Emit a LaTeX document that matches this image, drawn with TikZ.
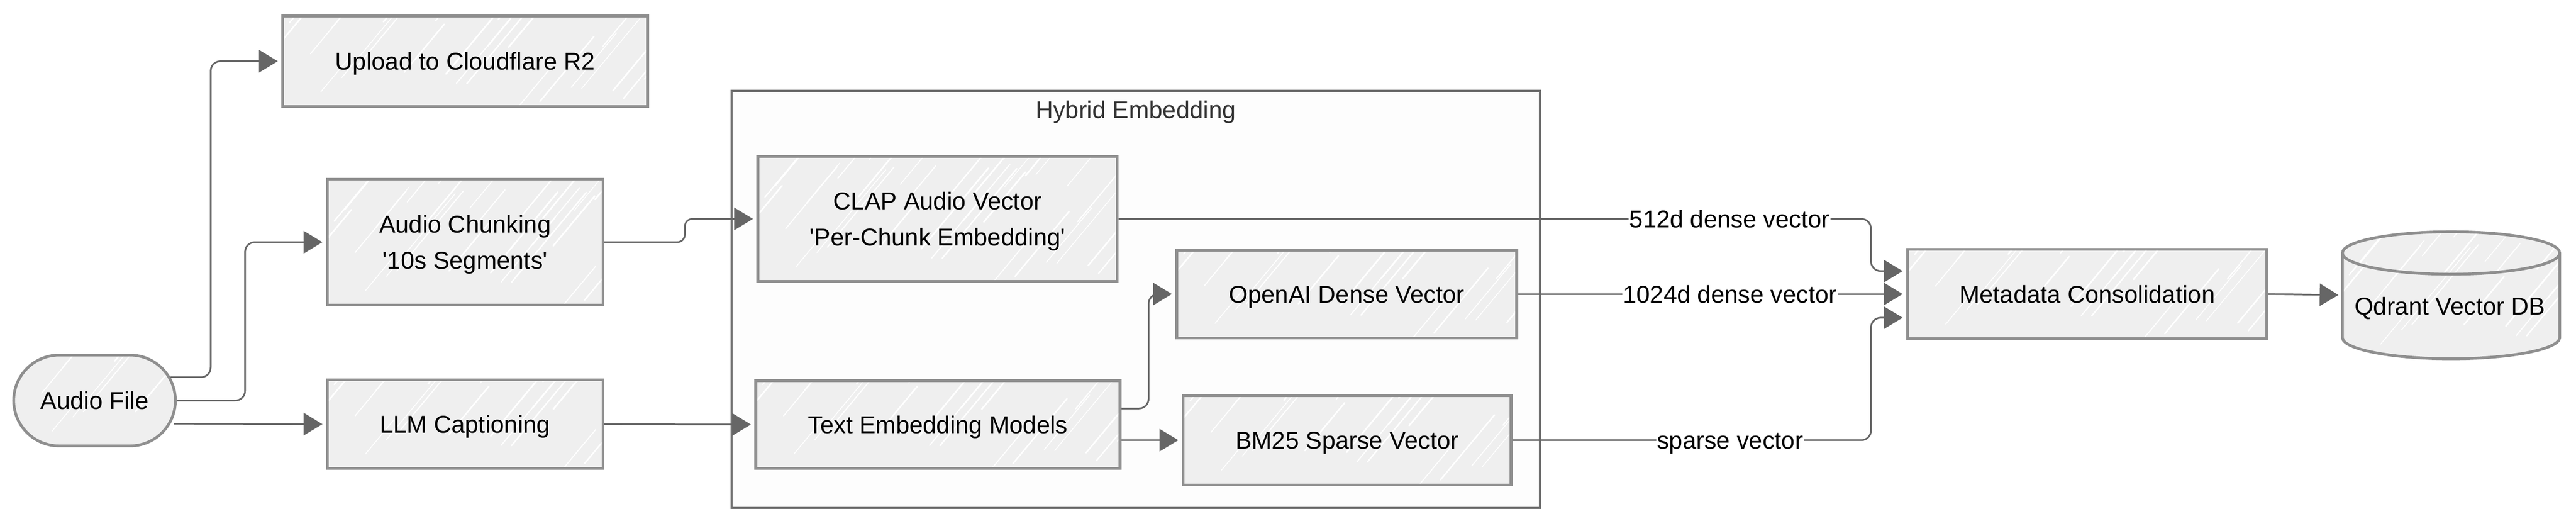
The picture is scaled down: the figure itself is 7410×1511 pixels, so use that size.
\documentclass[tikz,border=0pt]{standalone}
\usepackage{fontspec}
\newfontfamily\plainsans{Liberation Sans}
\usetikzlibrary{arrows.meta,shapes.misc,calc}
\definecolor{boxline}{HTML}{8F8F8F}
\definecolor{boxfill}{HTML}{EFEFEF}
\definecolor{conncol}{HTML}{666666}
\definecolor{framecol}{HTML}{6F6F6F}
\definecolor{framefill}{HTML}{FDFDFD}
\newcommand{\skhatch}{%
  \pgfmathsetseed{7}%
  \foreach \k in {-40,-10,...,1200}{%
    \pgfmathsetmacro{\ya}{rnd*380}%
    \pgfmathsetmacro{\ln}{60+rnd*170}%
    \pgfmathsetmacro{\wd}{0.5+rnd*0.7}%
    \draw[white,line width=\wd pt,line cap=round]
      ($(path picture bounding box.south west)+(\k*0.25pt,\ya*0.25pt)$) -- ++(\ln*0.25pt,\ln*1.2*0.25pt);
  }%
}
\tikzset{
  txt/.style={font=\plainsans\fontsize{17.5}{26}\selectfont,align=center,text=black,inner sep=0pt,text height=12.6pt,text depth=0pt},
  twoline/.style={text height=38.6pt},
  bx/.style 2 args={minimum width=#1*0.25pt,minimum height=#2*0.25pt},
  sketchline/.style={draw=boxline,line width=2pt},
  sketchbox/.style={txt,sketchline,fill=boxfill,path picture={\skhatch}},
  rectbox/.style={sketchbox,rectangle},
  framebox/.style={draw=framecol,line width=1.7pt,fill=framefill,rectangle,inner sep=0pt},
  conn/.style={draw=conncol,line width=1.2pt,rounded corners=7pt,-{Triangle[length=13.5pt,width=16pt,fill=conncol]},shorten >=2.5pt},
  lab/.style={txt,fill=white,inner sep=0.6pt}
}
\begin{document}
\begin{tikzpicture}[x=0.25pt,y=-0.25pt]
\useasboundingbox (0,0) rectangle (7410,1511);
% container
\node[framebox,bx={2325}{1198}] (hybrid) at (3267,861) {};
\node[txt,text=black!80] (hybt) at (3267,315) {Hybrid Embedding};
% lanes
\coordinate (laneu) at (606,176);
\coordinate (lanec) at (705,696);
\coordinate (lanee) at (1970,696);
\coordinate (lanet) at (3304,845);
\coordinate (lanem) at (5382,845);
% nodes
\node[sketchbox,rounded rectangle,bx={465}{261}] (audio) at (272,1151) {Audio File};
\node[rectbox,bx={1050}{260}] (up) at (1338,176) {Upload to Cloudflare R2};
\node[rectbox,twoline,bx={793}{362}] (chunk) at (1338,696) {Audio Chunking\\'10s Segments'};
\node[rectbox,bx={793}{255}] (llm) at (1338,1219) {LLM Captioning};
\node[rectbox,twoline,bx={1034}{359}] (clap) at (2697,629) {CLAP Audio Vector\\'Per-Chunk Embedding'};
\node[rectbox,bx={1048}{253}] (text) at (2698,1220) {Text Embedding Models};
\node[rectbox,bx={978}{253}] (open) at (3874,845) {OpenAI Dense Vector};
\node[rectbox,bx={943}{257}] (bm) at (3875,1265) {BM25 Sparse Vector};
\node[rectbox,bx={1034}{257}] (meta) at (6004,845) {Metadata Consolidation};
% database cylinder
\path[sketchline,fill=boxfill,path picture={\skhatch}]
  (6738,727) .. controls (6738,693.4) and (6878,666) .. (7050.5,666)
  .. controls (7223,666) and (7363,693.4) .. (7363,727)
  -- (7363,970) .. controls (7363,1003.6) and (7223,1031) .. (7050.5,1031)
  .. controls (6878,1031) and (6738,1003.6) .. (6738,970) -- cycle;
\draw[sketchline] (6738,727) .. controls (6738,760.6) and (6878,788) .. (7050.5,788)
  .. controls (7223,788) and (7363,760.6) .. (7363,727);
\node[inner sep=0pt,bx={625}{366}] (db) at (7050,848) {};
\node[txt] (dbt) at (7047,880) {Qdrant Vector DB};
% connectors
\draw[conn] (audio.17) -| (laneu) -- (up.west);
\draw[conn] (audio.east) -| (lanec) -- (chunk.west);
\draw[conn] (audio.-17 -| audio.east) ++(-8,0) -- (llm.west);
\draw[conn,rounded corners=5.5pt] (chunk.east) -- (chunk.east -| lanee) |- (clap.west);
\draw[conn] (llm.east) -- (text.west);
\draw[conn] ([yshift=11.5pt]text.east) -- ([yshift=11.5pt]text.east -| lanet) |- (open.west);
\draw[conn] (text.east |- bm.west) -- (bm.west);
\draw[conn] (clap.east) -- node[lab,pos=0.812] (l1) {512d dense vector} (clap.east -| lanem) |- ([yshift=16.5pt]meta.west);
\draw[conn] (open.east) -- node[lab,pos=0.546] (l2) {1024d dense vector} (meta.west);
\draw[conn] (bm.east) -- node[lab,pos=0.607] (l3) {sparse vector} (bm.east -| lanem) |- ([yshift=-17pt]meta.west);
\draw[conn] (meta.east) -- (db.west);
\end{tikzpicture}
\end{document}
